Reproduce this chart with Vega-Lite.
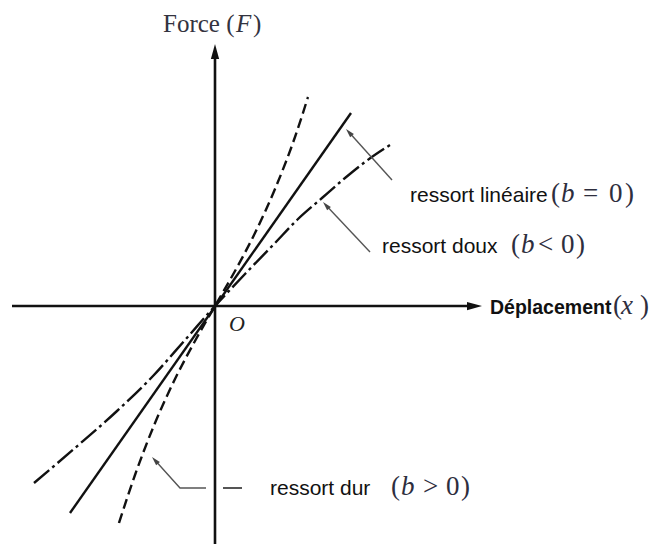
{
  "$schema": "https://vega.github.io/schema/vega-lite/v6.json",
  "width": 651,
  "height": 544,
  "padding": 0,
  "autosize": {"type": "none"},
  "background": "white",
  "config": {"view": {"stroke": null}},
  "datasets": {
    "axes": [
      {"x": -203, "y": 0, "x2": 260, "y2": 0},
      {"x": 0, "y": -238, "x2": 0, "y2": 255}
    ],
    "curves": [
      {"s": "dur", "x": -96, "y": -217},
      {"s": "dur", "x": -80, "y": -169},
      {"s": "dur", "x": -60, "y": -117},
      {"s": "dur", "x": -40, "y": -73},
      {"s": "dur", "x": -20, "y": -35},
      {"s": "dur", "x": 0, "y": 0},
      {"s": "dur", "x": 20, "y": 35},
      {"s": "dur", "x": 40, "y": 73},
      {"s": "dur", "x": 60, "y": 117},
      {"s": "dur", "x": 80, "y": 169},
      {"s": "dur", "x": 93, "y": 209},
      {"s": "lin", "x": -145, "y": -207},
      {"s": "lin", "x": 136, "y": 193},
      {"s": "doux", "x": -181, "y": -177},
      {"s": "doux", "x": -140, "y": -142},
      {"s": "doux", "x": -98, "y": -105},
      {"s": "doux", "x": -62, "y": -70},
      {"s": "doux", "x": -30, "y": -34},
      {"s": "doux", "x": 0, "y": 0},
      {"s": "doux", "x": 30, "y": 32},
      {"s": "doux", "x": 60, "y": 63},
      {"s": "doux", "x": 82, "y": 86},
      {"s": "doux", "x": 107, "y": 108},
      {"s": "doux", "x": 130, "y": 128},
      {"s": "doux", "x": 150, "y": 144},
      {"s": "doux", "x": 175, "y": 161}
    ],
    "ann": [
      {"s": "lin", "o": 0, "x": 177, "y": 126},
      {"s": "lin", "o": 1, "x": 134, "y": 173.7},
      {"s": "doux", "o": 0, "x": 155, "y": 54},
      {"s": "doux", "o": 1, "x": 111, "y": 100.7},
      {"s": "dur", "o": 0, "x": -60, "y": -154.3},
      {"s": "dur", "o": 1, "x": -35, "y": -182},
      {"s": "dur", "o": 2, "x": -9, "y": -182}
    ],
    "dash": [{"x": 8, "y": -182, "x2": 27, "y2": -182}],
    "heads": [
      {"x": 134, "y": 173.7},
      {"x": 111, "y": 100.7},
      {"x": -60, "y": -154.3}
    ],
    "yhead": [{"x": 0, "y": 254.5}],
    "xhead": [{"x": 259.5, "y": 0}],
    "sans": [
      {"t": "ressort linéaire", "x": 195, "y": 104},
      {"t": "ressort doux", "x": 167, "y": 53},
      {"t": "ressort dur", "x": 55, "y": -189}
    ],
    "bold": [{"t": "Déplacement", "x": 275, "y": -8}],
    "math": [
      {"t": "(", "x": 336, "y": 104},
      {"t": "=", "x": 368, "y": 104},
      {"t": "0", "x": 394, "y": 104},
      {"t": ")", "x": 410, "y": 104},
      {"t": "(", "x": 296, "y": 53},
      {"t": "<", "x": 323, "y": 53},
      {"t": "0", "x": 346, "y": 53},
      {"t": ")", "x": 361, "y": 53},
      {"t": "(", "x": 176, "y": -189},
      {"t": ">", "x": 208, "y": -189},
      {"t": "0", "x": 231, "y": -189},
      {"t": ")", "x": 246, "y": -189},
      {"t": "(", "x": 398, "y": -8},
      {"t": ")", "x": 425, "y": -8}
    ],
    "mathit": [
      {"t": "b", "x": 346, "y": 104},
      {"t": "b", "x": 306, "y": 53},
      {"t": "b", "x": 186, "y": -189},
      {"t": "x", "x": 406, "y": -8}
    ],
    "force": [
      {"t": "Force (", "x": -52, "y": 274},
      {"t": ")", "x": 38, "y": 274}
    ],
    "forceit": [{"t": "F", "x": 21, "y": 274}],
    "origin": [{"t": "O", "x": 14, "y": -25}]
  },
  "encoding": {
    "x": {"field": "x", "type": "quantitative", "scale": {"domain": [-215, 436], "nice": false, "zero": false}, "axis": null},
    "y": {"field": "y", "type": "quantitative", "scale": {"domain": [-238, 306], "nice": false, "zero": false}, "axis": null}
  },
  "layer": [
    {
      "data": {"name": "axes"},
      "mark": {"type": "rule", "strokeWidth": 2.6, "color": "#111"},
      "encoding": {"x2": {"field": "x2"}, "y2": {"field": "y2"}}
    },
    {
      "data": {"name": "yhead"},
      "mark": {"type": "point", "shape": "M0,-1L0.55,1L-0.55,1Z", "size": 225, "filled": true, "color": "#111", "opacity": 1}
    },
    {
      "data": {"name": "xhead"},
      "mark": {"type": "point", "shape": "M1,0L-1,0.55L-1,-0.55Z", "size": 225, "filled": true, "color": "#111", "opacity": 1}
    },
    {
      "data": {"name": "curves"},
      "transform": [{"filter": "datum.s === 'dur'"}],
      "mark": {"type": "line", "strokeDash": [10, 5], "strokeWidth": 2.4, "color": "#111", "interpolate": "monotone"}
    },
    {
      "data": {"name": "curves"},
      "transform": [{"filter": "datum.s === 'lin'"}],
      "mark": {"type": "line", "strokeWidth": 2.4, "color": "#111"}
    },
    {
      "data": {"name": "curves"},
      "transform": [{"filter": "datum.s === 'doux'"}],
      "mark": {"type": "line", "strokeDash": [20, 4, 3, 4], "strokeWidth": 2.4, "color": "#111", "interpolate": "monotone"}
    },
    {
      "data": {"name": "ann"},
      "mark": {"type": "line", "strokeWidth": 1.4, "color": "#555"},
      "encoding": {"detail": {"field": "s"}, "order": {"field": "o"}}
    },
    {
      "data": {"name": "heads"},
      "mark": {"type": "point", "shape": "M0,-1L0.55,1L-0.55,1Z", "size": 81, "angle": 318, "filled": true, "color": "#444", "opacity": 1}
    },
    {
      "data": {"name": "dash"},
      "mark": {"type": "rule", "strokeWidth": 2, "color": "#555"},
      "encoding": {"x2": {"field": "x2"}, "y2": {"field": "y2"}}
    },
    {
      "data": {"name": "sans"},
      "mark": {"type": "text", "font": "Liberation Sans", "fontSize": 21, "align": "left", "baseline": "alphabetic", "color": "#111"},
      "encoding": {"text": {"field": "t"}}
    },
    {
      "data": {"name": "bold"},
      "mark": {"type": "text", "font": "Liberation Sans", "fontWeight": "bold", "fontSize": 19.5, "align": "left", "baseline": "alphabetic", "color": "#111"},
      "encoding": {"text": {"field": "t"}}
    },
    {
      "data": {"name": "math"},
      "mark": {"type": "text", "font": "Liberation Serif", "fontSize": 27, "align": "left", "baseline": "alphabetic", "color": "#2e2e3e"},
      "encoding": {"text": {"field": "t"}}
    },
    {
      "data": {"name": "mathit"},
      "mark": {"type": "text", "font": "Liberation Serif", "fontStyle": "italic", "fontSize": 27, "align": "left", "baseline": "alphabetic", "color": "#2e2e3e"},
      "encoding": {"text": {"field": "t"}}
    },
    {
      "data": {"name": "force"},
      "mark": {"type": "text", "font": "Liberation Serif", "fontSize": 25, "align": "left", "baseline": "alphabetic", "color": "#333340"},
      "encoding": {"text": {"field": "t"}}
    },
    {
      "data": {"name": "forceit"},
      "mark": {"type": "text", "font": "Liberation Serif", "fontStyle": "italic", "fontSize": 25, "align": "left", "baseline": "alphabetic", "color": "#333340"},
      "encoding": {"text": {"field": "t"}}
    },
    {
      "data": {"name": "origin"},
      "mark": {"type": "text", "font": "Liberation Serif", "fontStyle": "italic", "fontSize": 22, "align": "left", "baseline": "alphabetic", "color": "#222"},
      "encoding": {"text": {"field": "t"}}
    }
  ]
}
